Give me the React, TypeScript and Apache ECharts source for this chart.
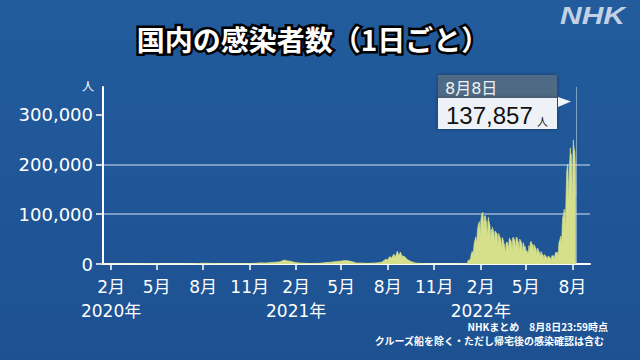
import React, { useEffect, useRef } from "react";
import * as echarts from "echarts";

// Earlier waves (2020–2021), daily counts read at selected dates
const waveDates = [
  "2020-01-16", "2020-02-15", "2020-03-01", "2020-03-15", "2020-04-01", "2020-04-11", "2020-04-20",
  "2020-05-01", "2020-05-15", "2020-06-01", "2020-06-20", "2020-07-01", "2020-07-15", "2020-07-31",
  "2020-08-07", "2020-08-15", "2020-08-31", "2020-09-15", "2020-10-01", "2020-10-15", "2020-11-01",
  "2020-11-15", "2020-11-21", "2020-12-01", "2020-12-12", "2020-12-26", "2020-12-31",
  "2021-01-08", "2021-01-14", "2021-01-21", "2021-01-28", "2021-02-04", "2021-02-11", "2021-02-18",
  "2021-03-01", "2021-03-10", "2021-03-20", "2021-03-31", "2021-04-10", "2021-04-22", "2021-05-01",
  "2021-05-08", "2021-05-15", "2021-05-22", "2021-05-31", "2021-06-10", "2021-06-20", "2021-06-30",
  "2021-07-10", "2021-07-20", "2021-07-28", "2021-08-01", "2021-08-05", "2021-08-09", "2021-08-13",
  "2021-08-16", "2021-08-20", "2021-08-23", "2021-08-26", "2021-08-30", "2021-09-02", "2021-09-09",
  "2021-09-16", "2021-09-25", "2021-10-05", "2021-10-15", "2021-11-01", "2021-11-15", "2021-12-01",
  "2021-12-15", "2021-12-25", "2021-12-31",
];
const waveValues = [
  1, 10, 15, 40, 250, 700, 400,
  200, 30, 40, 60, 130, 450, 1580,
  1600, 1200, 600, 500, 600, 650, 800,
  1700, 2500, 2000, 3000, 3800, 4500,
  8000, 6600, 5600, 3500, 2400, 1800, 1500,
  900, 1300, 1500, 2800, 3600, 5200, 5900,
  7200, 6400, 4900, 2200, 1900, 1300, 1700,
  2300, 3700, 9600, 8400, 15000, 12000, 20000,
  14000, 25900, 17000, 24000, 15000, 16000, 9000,
  5000, 2000, 1100, 600, 200, 150, 120,
  180, 300, 450,
];

// Daily counts from 2022-01-01 to 2022-08-08
const start2022 = "2022-01-01";
const daily2022 = [
  // Jan
  456, 535, 782, 1265, 2638, 4475, 6214, 8480, 8249, 6438, 5985, 13244, 18860, 22045, 25742, 25631,
  20670, 32197, 41485, 46199, 49854, 54576, 50035, 40696, 62613, 71633, 78930, 81825, 84941, 78267, 58811,
  // Feb
  85853, 94931, 100441, 97735, 104345, 90000, 73000, 97000, 91000, 97000, 88000, 86000, 71000, 56000,
  84000, 94000, 87000, 82000, 79000, 66000, 51000, 70000, 59000, 74000, 69000, 68000, 61000, 44000,
  // Mar
  65000, 66000, 66000, 62000, 61000, 54000, 37000, 61000, 60000, 56000, 54000, 51000, 45000, 30000,
  51000, 53000, 49000, 46000, 40000, 39000, 30000, 21000, 41000, 44000, 44000, 43000, 38000, 27000,
  48000, 52000, 49000,
  // Apr
  48000, 46000, 41000, 29000, 51000, 54000, 54000, 50000, 49000, 41000, 30000, 53000, 54000, 52000,
  47000, 45000, 38000, 26000, 50000, 50000, 47000, 44000, 42000, 35000, 24000, 43000, 40000, 36000,
  33000, 35000,
  // May
  29000, 22000, 27000, 25000, 21000, 24000, 37000, 33000, 25000, 44000, 44000, 45000, 41000, 40000,
  36000, 23000, 39000, 38000, 36000, 33000, 31000, 27000, 18000, 32000, 31000, 28000, 25000, 24000,
  20000, 14000, 25000,
  // Jun
  24000, 21000, 19000, 18000, 16000, 10000, 19000, 18000, 17000, 15000, 15000, 13000, 8000, 16000,
  16000, 15000, 14000, 14000, 12000, 7000, 15000, 17000, 16000, 16000, 17000, 15000, 9000, 20000,
  23000, 23000,
  // Jul
  23000, 24000, 23000, 15000, 36000, 45000, 47000, 51000, 56000, 53000, 38000, 76000, 94000, 97000,
  103000, 110000, 105000, 74000, 110000, 152000, 186000, 195000, 200000, 168000, 127000, 196000,
  209000, 233000, 221000, 220000, 196000,
  // Aug
  127000, 205000, 249000, 238000, 230000, 226000, 201000, 137857,
];

const tickDates = [
  [2020, 2], [2020, 5], [2020, 8], [2020, 11],
  [2021, 2], [2021, 5], [2021, 8], [2021, 11],
  [2022, 2], [2022, 5], [2022, 8],
];
const yTicks = [0, 100000, 200000, 300000];

const title = "国内の感染者数（1日ごと）";
const lastDateLabel = "8月8日";
const lastValueLabel = "137,857";
const markDate = "2022-08-08";
const note1 = "NHKまとめ　8月8日23:59時点";
const note2 = "クルーズ船を除く・ただし帰宅後の感染確認は含む";

const JP = "'Noto Sans CJK JP', sans-serif";
const NUM = "'DejaVu Sans', 'Noto Sans CJK JP', sans-serif";

export default function App() {
  const ref = useRef<HTMLDivElement>(null);
  useEffect(() => {
    if (!ref.current) return;
    const chart = echarts.init(ref.current, null, { renderer: "svg" });
    const [sy, sm, sd] = start2022.split("-").map(Number);
    const data: [number, number][] = [];
    waveDates.forEach((d, i) => {
      const [y, m, dd] = d.split("-").map(Number);
      data.push([new Date(y, m - 1, dd).getTime(), waveValues[i]]);
    });
    daily2022.forEach((v, i) => {
      data.push([new Date(sy, sm - 1, sd + i).getTime(), v]);
    });
    const ticks = tickDates.map(([y, m]) => new Date(y, m - 1, 1).getTime());
    const [my, mm, md] = markDate.split("-").map(Number);
    const markTs = new Date(my, mm - 1, md).getTime();
    const color = "#d6e08c";

    chart.setOption({
      animation: false,
      backgroundColor: {
        type: "linear", x: 0, y: 0, x2: 0, y2: 1,
        colorStops: [
          { offset: 0, color: "#225c9d" },
          { offset: 1, color: "#1d5192" },
        ],
      },
      grid: { left: 103, right: 50, top: 87, bottom: 96 },
      xAxis: {
        type: "value",
        min: new Date(2020, 0, 16).getTime(),
        max: new Date(2022, 8, 5).getTime(),
        axisLine: { show: true, lineStyle: { color: "#ffffff", width: 2 } },
        axisTick: { show: true, customValues: ticks, length: 6, lineStyle: { color: "#ffffff", width: 1.5 } },
        splitLine: { show: false },
        axisLabel: {
          customValues: ticks,
          hideOverlap: false,
          color: "#ffffff",
          fontFamily: NUM,
          fontSize: 17,
          lineHeight: 24,
          margin: 11,
          formatter: (val: number) => {
            const d = new Date(val);
            const m = d.getMonth() + 1;
            return m === 2 ? `${m}月\n${d.getFullYear()}年` : `${m}月`;
          },
        },
      },
      yAxis: {
        type: "value",
        min: 0,
        max: 355000,
        interval: 100000,
        axisLine: { show: true, lineStyle: { color: "#ffffff", width: 2 } },
        axisTick: { show: true, customValues: yTicks, length: 7, lineStyle: { color: "#ffffff", width: 1.5 } },
        splitLine: {
          show: true, showMinLine: false, showMaxLine: false,
          lineStyle: { color: "rgba(185,202,225,0.8)", width: 1.5 },
        },
        axisLabel: {
          customValues: yTicks,
          color: "#ffffff",
          fontFamily: NUM,
          fontSize: 18,
          margin: 10,
          formatter: (v: number) => v.toLocaleString("en-US"),
        },
      },
      series: [
        {
          type: "line",
          data,
          showSymbol: false,
          symbol: "none",
          lineStyle: { color, width: 0.6 },
          areaStyle: { color, opacity: 1 },
          z: 3,
          markLine: {
            silent: true,
            symbol: "none",
            label: { show: false },
            lineStyle: { color: "rgba(210,222,236,0.55)", width: 1, type: "solid" },
            data: [{ xAxis: markTs }],
            z: 4,
          },
        },
      ],
      graphic: [
        {
          type: "text", x: 313, y: 39,
          style: {
            text: title, fill: "#ffffff", font: `bold 28px ${JP}`,
            align: "center", verticalAlign: "middle",
            stroke: "#000000", lineWidth: 5, strokeFirst: true,
          },
        },
        {
          type: "text", x: 560, y: 16, scaleX: 1.25,
          style: {
            text: "NHK", fill: "#c3d1e4", font: `italic bold 24px 'Liberation Sans', sans-serif`,
            align: "left", verticalAlign: "middle",
          },
        },
        {
          type: "text", x: 88, y: 85,
          style: { text: "人", fill: "#ffffff", font: `12px ${JP}`, align: "center", verticalAlign: "middle" },
        },
        {
          type: "rect", shape: { x: 438, y: 75, width: 119, height: 24 },
          style: { fill: "#4f6b84", shadowBlur: 4, shadowColor: "rgba(0,0,0,0.35)" },
        },
        {
          type: "rect", shape: { x: 438, y: 98, width: 119, height: 31 },
          style: { fill: "#eef2f7", shadowBlur: 4, shadowColor: "rgba(0,0,0,0.35)" },
        },
        {
          type: "polygon", shape: { points: [[558, 97], [571, 101.5], [558, 107]] },
          style: { fill: "#f2f5f9" },
        },
        {
          type: "text", x: 445, y: 88,
          style: { text: lastDateLabel, fill: "#eef2f6", font: `16px ${NUM}`, align: "left", verticalAlign: "middle" },
        },
        {
          type: "text", x: 446, y: 115,
          style: { text: lastValueLabel, fill: "#111111", font: `24px 'Liberation Sans', sans-serif`, align: "left", verticalAlign: "middle" },
        },
        {
          type: "text", x: 537, y: 121,
          style: { text: "人", fill: "#111111", font: `11px ${JP}`, align: "left", verticalAlign: "middle" },
        },
        {
          type: "text", x: 608, y: 326,
          style: { text: note1, fill: "#ffffff", font: `bold 10px ${JP}`, align: "right", verticalAlign: "middle" },
        },
        {
          type: "text", x: 604, y: 340,
          style: { text: note2, fill: "#ffffff", font: `bold 10px ${JP}`, align: "right", verticalAlign: "middle" },
        },
      ],
    });
    return () => chart.dispose();
  }, []);
  return <div ref={ref} style={{ position: "fixed", left: 0, top: 0, width: 640, height: 360 }} />;
}
